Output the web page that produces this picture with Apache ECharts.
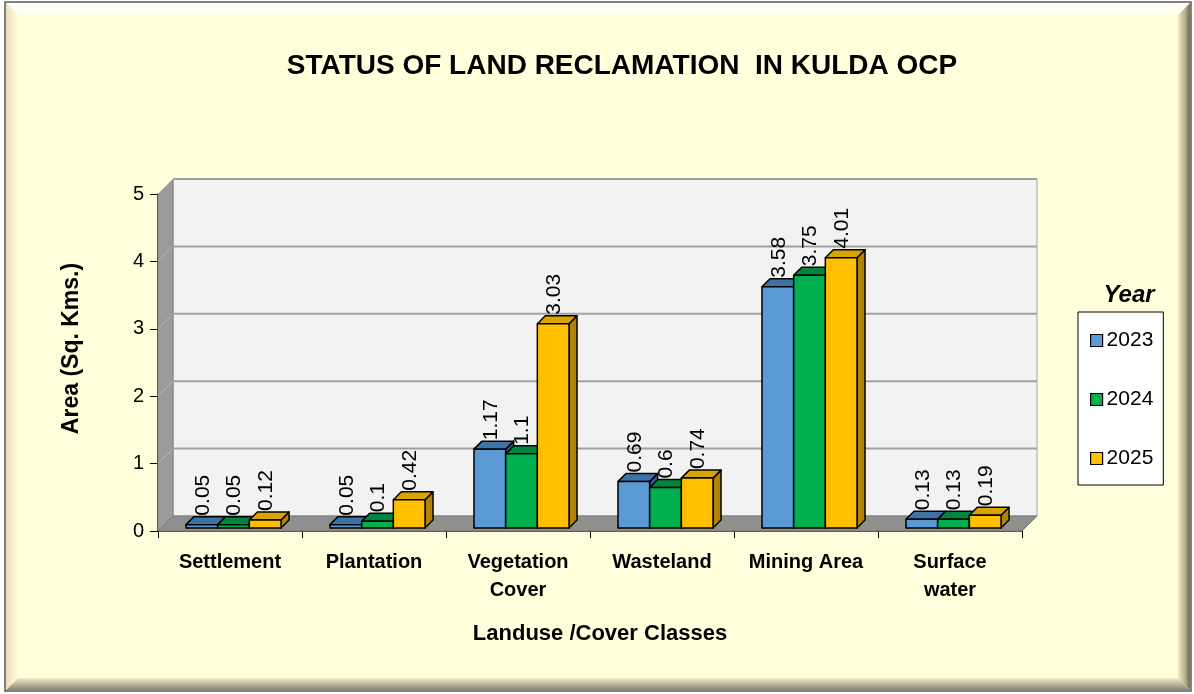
<!DOCTYPE html>
<html>
<head>
<meta charset="utf-8">
<script src="https://cdn.jsdelivr.net/npm/echarts@6/dist/echarts.min.js"></script>
<style>
html,body{margin:0;padding:0;background:#fff;}
#c{width:1194px;height:694px;}
</style>
</head>
<body>
<div id="c"></div>
<script>
var categories = ['Settlement', 'Plantation', 'Vegetation\nCover', 'Wasteland', 'Mining Area', 'Surface\nwater'];
var years = ['2023', '2024', '2025'];
var v2023 = [0.05, 0.05, 1.17, 0.69, 3.58, 0.13];
var v2024 = [0.05, 0.1, 1.1, 0.6, 3.75, 0.13];
var v2025 = [0.12, 0.42, 3.03, 0.74, 4.01, 0.19];
var yTicks = [0, 1, 2, 3, 4, 5];

var FONT = '"Liberation Sans", Arial, sans-serif';
var DEPTH = 15;   // wall depth
var BD = 8;       // bar depth
var fronts = ['#5B9BD5', '#00B050', '#FFC000'];
var tops = ['#3F73A8', '#00853C', '#D9A300'];
var sides = ['#35608C', '#006B30', '#B08400'];

var chart = echarts.init(document.getElementById('c'), null, {renderer: 'canvas'});

function wallRender(params, api) {
  var cs = params.coordSys;
  var x0 = cs.x, x1 = cs.x + cs.width, yb = cs.y + cs.height, yt = cs.y;
  var D = DEPTH;
  var ch = [];
  ch.push({type: 'rect', shape: {x: x0 + D, y: yt - D, width: x1 - x0, height: yb - yt}, style: {fill: '#F2F2F2', stroke: '#A6A6A6', lineWidth: 1}});
  ch.push({type: 'polygon', shape: {points: [[x0, yb], [x0, yt], [x0 + D, yt - D], [x0 + D, yb - D]]}, style: {fill: '#9B9B9B', stroke: '#7F7F7F', lineWidth: 1}});
  for (var i = 1; i < yTicks.length; i++) {
    var p = api.coord([0, yTicks[i]]);
    ch.push({type: 'line', shape: {x1: x0 + D, y1: p[1] - D, x2: x1 + D, y2: p[1] - D}, style: {stroke: '#A0A0A0', lineWidth: 2}});
    ch.push({type: 'line', shape: {x1: x0, y1: p[1], x2: x0 + D, y2: p[1] - D}, style: {stroke: '#B8B8B8', lineWidth: 1}});
  }
  ch.push({type: 'polygon', shape: {points: [[x0, yb], [x1, yb], [x1 + D, yb - D], [x0 + D, yb - D]]}, style: {fill: '#8F8F8F', stroke: '#7A7A7A', lineWidth: 1}});
  return {type: 'group', children: ch};
}

function makeBarRender(s) {
  var labels = [v2023, v2024, v2025];
  return function (params, api) {
    var cat = api.value(0), val = api.value(1);
    var pt = api.coord([cat, val]);
    var base = api.coord([cat, 0]);
    var catW = api.size([1, 0])[0];
    var groupW = catW * 0.66;
    var bw = groupW / 3;
    var left = pt[0] - groupW / 2 + s * bw + 3.5;
    var top = pt[1] - 3;
    var bottom = base[1] - 3;
    var d = BD;
    var st = {stroke: '#000', lineWidth: 1.5, lineJoin: 'round'};
    return {
      type: 'group',
      children: [
        {type: 'polygon', shape: {points: [[left + bw, top], [left + bw + d, top - d], [left + bw + d, bottom - d], [left + bw, bottom]]}, style: Object.assign({fill: sides[s]}, st)},
        {type: 'polygon', shape: {points: [[left, top], [left + d, top - d], [left + bw + d, top - d], [left + bw, top]]}, style: Object.assign({fill: tops[s]}, st)},
        {type: 'rect', shape: {x: left, y: top, width: bw, height: bottom - top}, style: Object.assign({fill: fronts[s]}, st)},
        {type: 'text', x: left + bw / 2 + 1, y: top - d - 1, rotation: Math.PI / 2, z2: 100,
          style: {text: String(labels[s][params.dataIndex]), fill: '#000', font: '21px ' + FONT, align: 'left', verticalAlign: 'middle'}}
      ]
    };
  };
}

function seriesData(arr) {
  return arr.map(function (v, i) { return [i, v]; });
}

var option = {
  backgroundColor: '#FFFFFF',
  animation: false,
  graphic: [
    {type: 'rect', z: -10, shape: {x: 5, y: 2, width: 1186, height: 689}, style: {fill: '#FFFFDC', stroke: '#5A5A5A', lineWidth: 1.5}},
    {type: 'polygon', z: -9, shape: {points: [[6, 3], [1190, 3], [1178, 15], [18, 15]]}, style: {fill: new echarts.graphic.LinearGradient(0, 0, 0, 1, [{offset: 0, color: '#FFFFFF'}, {offset: 1, color: '#FFFFE8'}])}},
    {type: 'polygon', z: -9, shape: {points: [[1190, 3], [1190, 690], [1178, 678], [1178, 15]]}, style: {fill: new echarts.graphic.LinearGradient(0, 0, 1, 0, [{offset: 0, color: '#F3EBC6'}, {offset: 0.6, color: '#B8AE88'}, {offset: 1, color: '#6E6A5A'}])}},
    {type: 'polygon', z: -9, shape: {points: [[6, 690], [1190, 690], [1178, 678], [18, 678]]}, style: {fill: new echarts.graphic.LinearGradient(0, 0, 0, 1, [{offset: 0, color: '#F3EBC6'}, {offset: 1, color: '#8A8570'}])}},
    {type: 'polygon', z: -9, shape: {points: [[6, 3], [18, 15], [18, 678], [6, 690]]}, style: {fill: new echarts.graphic.LinearGradient(0, 0, 1, 0, [{offset: 0, color: '#E6DDB5'}, {offset: 1, color: '#FFFFDC'}])}}
  ],
  title: [
    {text: 'STATUS OF LAND RECLAMATION  IN KULDA OCP', left: 617, top: 47, textAlign: 'center',
      textStyle: {fontFamily: FONT, fontWeight: 'bold', fontSize: 28, color: '#000'}},
    {text: 'Year', left: 1124, top: 278, textAlign: 'center',
      textStyle: {fontFamily: FONT, fontWeight: 'bold', fontStyle: 'italic', fontSize: 24, color: '#000'}}
  ],
  legend: {
    data: years,
    orient: 'vertical',
    left: 1078, top: 312,
    padding: [18, 10, 16, 12],
    itemGap: 38,
    itemWidth: 12, itemHeight: 12,
    icon: 'rect',
    itemStyle: {borderColor: '#000', borderWidth: 1.2},
    backgroundColor: '#FFFFFF', borderColor: '#000', borderWidth: 1,
    textStyle: {fontFamily: FONT, fontSize: 21, color: '#000', padding: [0, 0, 0, -1]}
  },
  grid: {left: 158, right: 172, top: 194, bottom: 163, containLabel: false},
  xAxis: {
    type: 'category',
    data: categories,
    axisLine: {show: true, lineStyle: {color: '#000', width: 1.5}},
    axisTick: {show: true, length: 7, lineStyle: {color: '#000'}},
    axisLabel: {interval: 0, hideOverlap: false, fontFamily: FONT, fontWeight: 'bold', fontSize: 20, color: '#000', margin: 17, lineHeight: 28},
    name: 'Landuse /Cover Classes',
    nameLocation: 'middle', nameGap: 92,
    nameTextStyle: {fontFamily: FONT, fontWeight: 'bold', fontSize: 22, color: '#000', padding: [0, 0, 0, 20]}
  },
  yAxis: {
    type: 'value', min: 0, max: 5, interval: 1,
    axisLine: {show: true, lineStyle: {color: '#000', width: 1.5}},
    axisTick: {show: true, length: 8, lineStyle: {color: '#000'}},
    splitLine: {show: false},
    axisLabel: {fontFamily: FONT, fontSize: 20, color: '#000', margin: 14},
    name: 'Area (Sq. Kms.)',
    nameLocation: 'middle', nameGap: 75, nameRotate: 90,
    nameTextStyle: {fontFamily: FONT, fontWeight: 'bold', fontSize: 23, color: '#000', padding: [0, 0, 0, 28]}
  },
  series: [
    {name: 'walls', type: 'custom', z: 1, silent: true, renderItem: wallRender, data: [[0, 0]], encode: {x: 0, y: 1}},
    {name: '2023', type: 'custom', z: 2, itemStyle: {color: fronts[0]}, renderItem: makeBarRender(0), data: seriesData(v2023), encode: {x: 0, y: 1}},
    {name: '2024', type: 'custom', z: 2, itemStyle: {color: fronts[1]}, renderItem: makeBarRender(1), data: seriesData(v2024), encode: {x: 0, y: 1}},
    {name: '2025', type: 'custom', z: 2, itemStyle: {color: fronts[2]}, renderItem: makeBarRender(2), data: seriesData(v2025), encode: {x: 0, y: 1}}
  ]
};
chart.setOption(option);
</script>
</body>
</html>
